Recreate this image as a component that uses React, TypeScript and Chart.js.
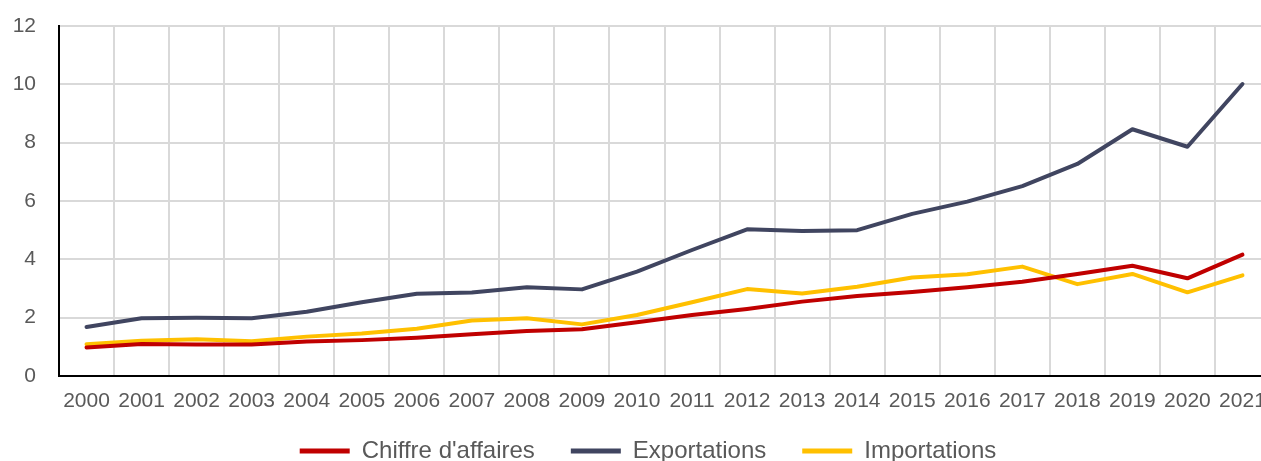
import React, { useEffect, useRef } from "react";
import { Chart, registerables } from "chart.js";

Chart.register(...registerables);

const years = ["2000","2001","2002","2003","2004","2005","2006","2007","2008","2009","2010","2011","2012","2013","2014","2015","2016","2017","2018","2019","2020","2021"];
const chiffreAffaires = [0.98,1.1,1.08,1.08,1.18,1.23,1.31,1.43,1.54,1.6,1.84,2.09,2.3,2.55,2.74,2.88,3.04,3.23,3.5,3.78,3.35,4.16];
const exportations = [1.68,1.98,2.0,1.98,2.2,2.53,2.82,2.86,3.04,2.97,3.58,4.32,5.03,4.97,5.0,5.56,5.98,6.51,7.27,8.46,7.86,10.01];
const importations = [1.09,1.21,1.26,1.19,1.35,1.46,1.62,1.9,1.98,1.77,2.09,2.53,2.98,2.83,3.06,3.38,3.49,3.75,3.15,3.5,2.87,3.45];
const seriesNames = ["Chiffre d'affaires", "Exportations", "Importations"];
const seriesColors = ["#C00000", "#404560", "#FFC000"];
const yTicks = [0, 2, 4, 6, 8, 10, 12];

const FONT = "'Liberation Sans', Arial, sans-serif";
const TEXT = "#595959";

const legendShift = {
  id: "legendShift",
  afterLayout(chart: any) {
    const l = chart.legend;
    if (!l) return;
    l.left += 13;
    l.right += 13;
    l.top -= 11;
    l.bottom -= 11;
  },
};

export default function App() {
  const ref = useRef<HTMLCanvasElement>(null);
  useEffect(() => {
    if (!ref.current) return;
    const values = [chiffreAffaires, exportations, importations];
    const chart = new Chart(ref.current, {
      type: "line",
      data: {
        labels: years,
        datasets: values.map((v, i) => ({
          label: seriesNames[i],
          data: v,
          borderColor: seriesColors[i],
          backgroundColor: seriesColors[i],
          borderWidth: 4,
          pointRadius: 0,
          tension: 0,
          borderCapStyle: "round" as const,
          borderJoinStyle: "round" as const,
        })),
      },
      plugins: [legendShift],
      options: {
        responsive: false,
        animation: false,
        devicePixelRatio: 1,
        layout: { padding: { top: 26, left: 0, right: 0, bottom: 0 } },
        plugins: {
          tooltip: { enabled: false },
          legend: {
            position: "bottom",
            labels: {
              boxWidth: 50,
              boxHeight: 5,
              padding: 36,
              color: TEXT,
              font: { family: FONT, size: 24 },
              generateLabels: (c: any) =>
                Chart.defaults.plugins.legend.labels.generateLabels(c).map((l: any) => ({ ...l, lineWidth: 0 })),
            },
          },
        },
        scales: {
          x: {
            type: "category",
            offset: true,
            afterFit: (axis: any) => { axis.height = 38; axis.paddingLeft = 0; axis.paddingRight = 0; },
            grid: { offset: true, color: "#d9d9d9", lineWidth: 2, drawTicks: false },
            border: { color: "#000000", width: 2 },
            ticks: { color: TEXT, font: { family: FONT, size: 21 }, padding: 13, maxRotation: 0, autoSkip: false },
          },
          y: {
            min: 0,
            max: 12,
            afterFit: (axis: any) => { axis.width = 59; axis.paddingTop = 0; axis.paddingBottom = 0; },
            afterBuildTicks: (axis: any) => { axis.ticks = yTicks.map((v) => ({ value: v })); },
            grid: { color: "#d9d9d9", lineWidth: 2, drawTicks: false },
            border: { color: "#000000", width: 2 },
            ticks: { color: TEXT, font: { family: FONT, size: 21 }, padding: 23 },
          },
        },
      },
    });
    return () => chart.destroy();
  }, []);
  return (
    <div style={{ position: "absolute", left: 0, top: 0, width: 1261, height: 461, overflow: "hidden", background: "#fff" }}>
      <canvas ref={ref} width={1270} height={484} style={{ width: 1270, height: 484, display: "block" }} />
    </div>
  );
}
